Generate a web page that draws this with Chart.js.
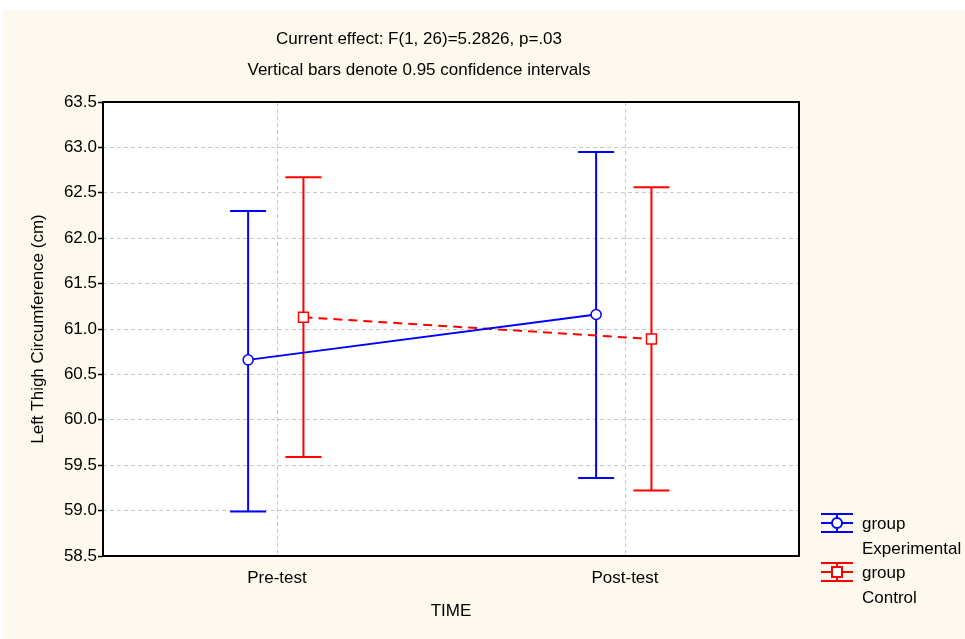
<!DOCTYPE html>
<html>
<head>
<meta charset="utf-8">
<script src="https://cdn.jsdelivr.net/npm/chart.js@4.4.1/dist/chart.umd.min.js"></script>
<style>
	html, body { margin: 0; padding: 0; background: #ffffff; }
	#wrap { position: relative; width: 965px; height: 639px; }
</style>
</head>
<body>
<div id="wrap"><canvas id="main-chart" width="965" height="639"></canvas></div>
<script>
// values
var categories = ['Pre-test', 'Post-test'];
var expMean = [60.66, 61.16];
var expLow = [58.99, 59.36];
var expHigh = [62.30, 62.95];
var ctlMean = [61.13, 60.89];
var ctlLow = [59.59, 59.22];
var ctlHigh = [62.67, 62.56];
var yTicks = { min: 58.5, max: 63.5, step: 0.5 };
var titleLines = ['Current effect: F(1, 26)=5.2826, p=.03', 'Vertical bars denote 0.95 confidence intervals'];
var groupLabels = [['group', 'Experimental'], ['group', 'Control']];

var FONT = "'Liberation Sans', Arial, sans-serif";
var BLUE = '#0000ff';
var RED = '#ff0000';

function points(means, shift) {
	return means.map(function (m, i) { return { x: i + 1 + shift, y: m }; });
}

// background, frame, titles
var framePlugin = {
	id: 'frame',
	beforeDraw: function (chart) {
		var ctx = chart.ctx, a = chart.chartArea;
		ctx.save();
		ctx.fillStyle = '#fdf9ee';
		ctx.fillRect(3, 10, chart.width - 3, chart.height - 10);
		ctx.fillStyle = '#ffffff';
		ctx.fillRect(a.left, a.top, a.right - a.left, a.bottom - a.top);
		ctx.restore();
	},
	afterDraw: function (chart) {
		var ctx = chart.ctx, a = chart.chartArea;
		ctx.save();
		ctx.strokeStyle = '#000';
		ctx.lineWidth = 2;
		ctx.strokeRect(a.left, a.top, a.right - a.left, a.bottom - a.top);
		ctx.fillStyle = '#000';
		ctx.font = '17px ' + FONT;
		ctx.textAlign = 'center';
		ctx.textBaseline = 'middle';
		ctx.fillText(titleLines[0], 419, 39);
		ctx.fillText(titleLines[1], 419, 70);
		ctx.restore();
	}
};

// confidence interval bars
var errorBarPlugin = {
	id: 'errorBars',
	beforeDatasetsDraw: function (chart) {
		var ctx = chart.ctx;
		var xs = chart.scales.x, ys = chart.scales.y;
		ctx.save();
		chart.data.datasets.forEach(function (ds) {
			ctx.strokeStyle = ds.borderColor;
			ctx.lineWidth = 2;
			ds.data.forEach(function (p, i) {
				var px = xs.getPixelForValue(p.x);
				var lo = ys.getPixelForValue(ds.low[i]);
				var hi = ys.getPixelForValue(ds.high[i]);
				ctx.beginPath();
				ctx.moveTo(px, lo); ctx.lineTo(px, hi);
				ctx.moveTo(px - 18, lo); ctx.lineTo(px + 18, lo);
				ctx.moveTo(px - 18, hi); ctx.lineTo(px + 18, hi);
				ctx.stroke();
			});
		});
		ctx.restore();
	}
};

// legend with error bar icons
var legendPlugin = {
	id: 'ciLegend',
	afterDraw: function (chart) {
		var ctx = chart.ctx;
		ctx.save();
		chart.data.datasets.forEach(function (ds, k) {
			var cy = 523 + k * 49;
			var x0 = 821, x1 = 853, cx = 837;
			ctx.strokeStyle = ds.borderColor;
			ctx.lineWidth = 2;
			ctx.beginPath();
			ctx.moveTo(x0, cy - 9); ctx.lineTo(x1, cy - 9);
			ctx.moveTo(x0, cy + 9); ctx.lineTo(x1, cy + 9);
			ctx.moveTo(x0, cy); ctx.lineTo(x1, cy);
			ctx.moveTo(cx, cy - 9); ctx.lineTo(cx, cy + 9);
			ctx.stroke();
			ctx.fillStyle = '#fff';
			ctx.beginPath();
			if (ds.pointStyle === 'rect') {
				ctx.rect(cx - 5, cy - 5, 10, 10);
			} else {
				ctx.arc(cx, cy, 5, 0, Math.PI * 2);
			}
			ctx.fill();
			ctx.stroke();
			ctx.fillStyle = '#000';
			ctx.font = '17px ' + FONT;
			ctx.textAlign = 'left';
			ctx.textBaseline = 'middle';
			ctx.fillText(groupLabels[k][0], 862, cy + 1);
			ctx.fillText(groupLabels[k][1], 862, cy + 26);
		});
		ctx.restore();
	}
};

var ctx = document.getElementById('main-chart');
var chart = new Chart(ctx, {
	type: 'line',
	data: {
		datasets: [{
			label: 'group Experimental',
			data: points(expMean, -0.083),
			low: expLow,
			high: expHigh,
			borderColor: BLUE,
			backgroundColor: '#fff',
			borderWidth: 2,
			pointStyle: 'circle',
			pointRadius: 5,
			pointBorderWidth: 1.5,
			pointBackgroundColor: '#fff'
		}, {
			label: 'group Control',
			data: points(ctlMean, 0.076),
			low: ctlLow,
			high: ctlHigh,
			borderColor: RED,
			backgroundColor: '#fff',
			borderWidth: 2,
			borderDash: [9, 6],
			pointStyle: 'rect',
			pointRadius: 7,
			pointBorderWidth: 1.5,
			pointBackgroundColor: '#fff'
		}]
	},
	options: {
		responsive: false,
		animation: false,
		layout: { padding: { left: 25, top: 102, right: 166, bottom: 0 } },
		plugins: {
			legend: { display: false },
			tooltip: { enabled: false }
		},
		scales: {
			x: {
				type: 'linear',
				min: 0.5,
				max: 2.5,
				afterBuildTicks: function (scale) {
					scale.ticks = categories.map(function (c, i) { return { value: i + 1 }; });
				},
				afterFit: function (scale) { scale.height = 83; },
				ticks: {
					callback: function (v) { return categories[v - 1]; },
					color: '#000',
					font: { family: FONT, size: 17 },
					padding: 12,
					maxRotation: 0
				},
				grid: { color: '#c8c8c8', drawTicks: false },
				border: { display: false, dash: [4, 3] },
				title: {
					display: true,
					text: 'TIME',
					color: '#000',
					font: { family: FONT, size: 17 },
					padding: { top: 0, bottom: 17 }
				}
			},
			y: {
				min: yTicks.min,
				max: yTicks.max,
				afterFit: function (scale) { scale.width = 78; },
				ticks: {
					stepSize: yTicks.step,
					callback: function (v) { return v.toFixed(1); },
					color: '#000',
					font: { family: FONT, size: 17 },
					padding: 1
				},
				grid: { color: '#c8c8c8', tickColor: '#000', tickLength: 5, tickWidth: 1.5 },
				border: { display: false, dash: [4, 3] },
				title: {
					display: true,
					text: 'Left Thigh Circumference (cm)',
					color: '#000',
					font: { family: FONT, size: 17 },
					padding: { top: 3, bottom: 0 }
				}
			}
		}
	},
	plugins: [framePlugin, errorBarPlugin, legendPlugin]
});
</script>
</body>
</html>
